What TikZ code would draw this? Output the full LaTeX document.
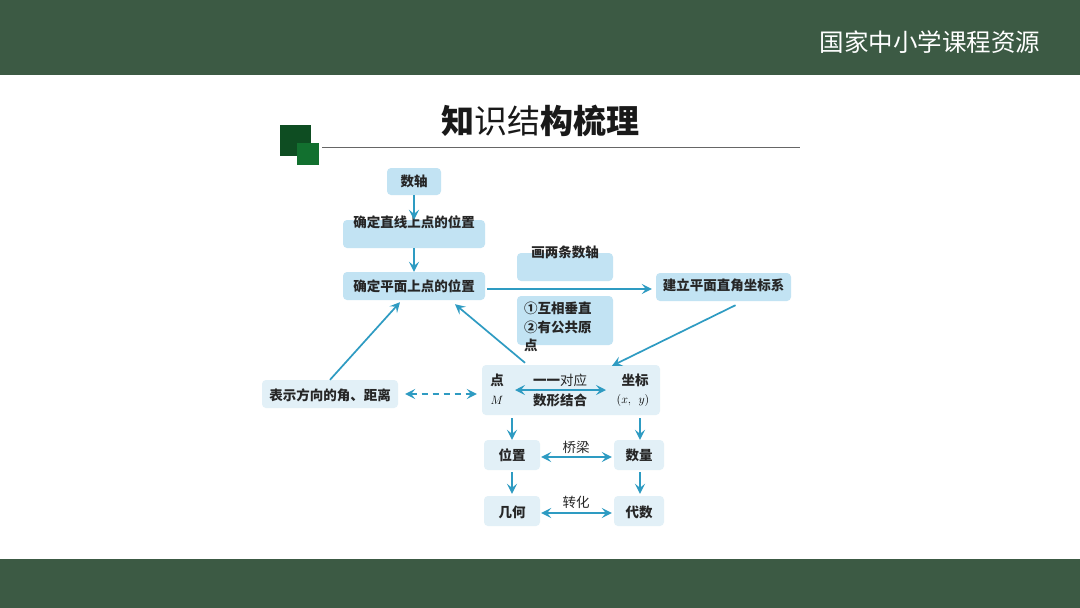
\documentclass[tikz,border=0pt]{standalone}
\usepackage{fontspec}
\setmainfont{Noto Sans CJK SC}
\usetikzlibrary{arrows.meta}
\definecolor{band}{HTML}{3C5A44}
\definecolor{sqdark}{HTML}{0E4D22}
\definecolor{sqlight}{HTML}{12702F}
\definecolor{boxa}{HTML}{C2E3F3}
\definecolor{boxb}{HTML}{E2F0F7}
\definecolor{arr}{HTML}{2E9BC2}
\tikzset{
  boxA/.style={fill=boxa, draw=none, rounded corners=4pt, inner sep=0pt},
  boxB/.style={fill=boxb, draw=none, rounded corners=4pt, inner sep=0pt},
  lbl/.style={font=\fontsize{13.5}{16}\selectfont\bfseries, inner sep=0pt, text=black!85},
  conn/.style={draw=arr, line width=1.7pt, -{Stealth[length=10pt,width=10pt,inset=4pt]}},
  dconn/.style={draw=arr, line width=1.7pt, {Stealth[length=10pt,width=10pt,inset=4pt]}-{Stealth[length=10pt,width=10pt,inset=4pt]}},
}
\begin{document}
\begin{tikzpicture}[x=1pt,y=-1pt]
\useasboundingbox (0,0) rectangle (1080,608);
\fill[white] (0,0) rectangle (1080,608);
% bands
\fill[band] (0,0) rectangle (1080,75);
\fill[band] (0,559) rectangle (1080,608);
\node[text=white, font=\fontsize{24.5}{27}\selectfont, inner sep=0pt] (hdr) at (930,42) {国家中小学课程资源};
% title
\node[font=\fontsize{33}{36}\selectfont, inner sep=0pt, text=black!90] (title) at (540,121) {{\bfseries 知}识结{\bfseries 构梳理}};
\fill[sqdark] (280,125) rectangle (311,156);
\fill[sqlight] (297,143) rectangle (319,165);
\draw[black!60, line width=0.8pt] (322,147) -- (800,147);
% nodes
\node[boxA, minimum width=54pt, minimum height=27pt] (sz) at (414,181.5) {};
\node[lbl] (szt) at (414,181.5) {数轴};
\node[boxA, minimum width=142pt, minimum height=28pt] (b2) at (414,234) {};
\node[lbl] (b2t) at (414,222) {确定直线上点的位置};
\node[boxA, minimum width=142pt, minimum height=28pt] (b3) at (414,286) {};
\node[lbl] (b3t) at (414,286) {确定平面上点的位置};
\node[boxA, minimum width=96pt, minimum height=28pt] (lt) at (565,267) {};
\node[lbl] (ltt) at (565,252) {画两条数轴};
\node[boxA, minimum width=96pt, minimum height=49pt] (cond) at (565,320.5) {};
\node[lbl, align=left, anchor=north west, font=\fontsize{13.5}{18.5}\selectfont\bfseries] (condt) at (524,302) {①互相垂直\\②有公共原\\点};
\node[boxA, minimum width=135pt, minimum height=28pt] (jl) at (723.5,287) {};
\node[lbl] (jlt) at (723.5,285) {建立平面直角坐标系};
\node[boxB, minimum width=136pt, minimum height=28pt] (bs) at (330,394) {};
\node[lbl] (bst) at (330,395) {表示方向的角、距离};
\node[boxB, minimum width=178pt, minimum height=50pt] (big) at (571,390) {};
\node[lbl] (dian) at (497,380) {点};
\node[inner sep=0pt, font=\fontsize{13}{15}\selectfont] (mm) at (497,400) {$M$};
\node[lbl] (dy) at (560,380) {一一{\mdseries 对应}};
\node[lbl] (sx) at (560,400) {数形结合};
\node[lbl] (zb) at (635,380) {坐标};
\node[inner sep=0pt, font=\fontsize{13}{15}\selectfont] (xy) at (633,400) {$(x,\;\,y)$};
\node[boxB, minimum width=56pt, minimum height=30pt] (wz) at (512,455) {};
\node[lbl] (wzt) at (512,455) {位置};
\node[boxB, minimum width=50pt, minimum height=30pt] (sl) at (639,455) {};
\node[lbl] (slt) at (639,455) {数量};
\node[boxB, minimum width=56pt, minimum height=30pt] (jh) at (512,511) {};
\node[lbl] (jht) at (512,512) {几何};
\node[boxB, minimum width=50pt, minimum height=30pt] (ds) at (639,511) {};
\node[lbl] (dst) at (639,512) {代数};
\node[lbl, font=\fontsize{13.5}{16}\selectfont\mdseries] (ql) at (576,447) {桥梁};
\node[lbl, font=\fontsize{13.5}{16}\selectfont\mdseries] (zh) at (576,502) {转化};
% connectors
\draw[conn] (sz.south) -- (b2.north);
\draw[conn] (b2.south) -- (b3.north);
\draw[conn, shorten <=2pt, shorten >=4pt] (b3.east |- 0,289) -- (jl.west |- 0,289);
\draw[conn] (bs.north) -- ([xshift=-14pt,yshift=-2pt]b3.south);
\draw[conn] ([xshift=-46pt,yshift=2pt]big.north) -- ([xshift=41pt,yshift=-4pt]b3.south);
\draw[conn] ([xshift=12pt,yshift=-4pt]jl.south) -- ([xshift=41pt,yshift=-1pt]big.north);
\draw[dconn, dashed, dash pattern=on 6pt off 5pt] ([xshift=7pt]bs.east) -- ([xshift=-5pt,yshift=-4pt]big.west);
\coordinate (dl) at (515,390);
\coordinate (dr) at (606,390);
\draw[dconn] (dl) -- (dr);
\draw[conn] ([xshift=-59pt,yshift=-3pt]big.south) -- (wz.north);
\draw[conn] ([xshift=69pt,yshift=-3pt]big.south) -- ([xshift=1pt]sl.north);
\draw[conn, shorten <=2pt, shorten >=2pt] (wz.south) -- (jh.north);
\draw[conn, shorten <=2pt, shorten >=2pt] ([xshift=1pt]sl.south) -- ([xshift=1pt]ds.north);
\draw[dconn, shorten <=1pt, shorten >=2pt] ([yshift=-2pt]wz.east) -- ([yshift=-2pt]sl.west);
\draw[dconn, shorten <=1pt, shorten >=2pt] ([yshift=-2pt]jh.east) -- ([yshift=-2pt]ds.west);
\end{tikzpicture}
\end{document}
